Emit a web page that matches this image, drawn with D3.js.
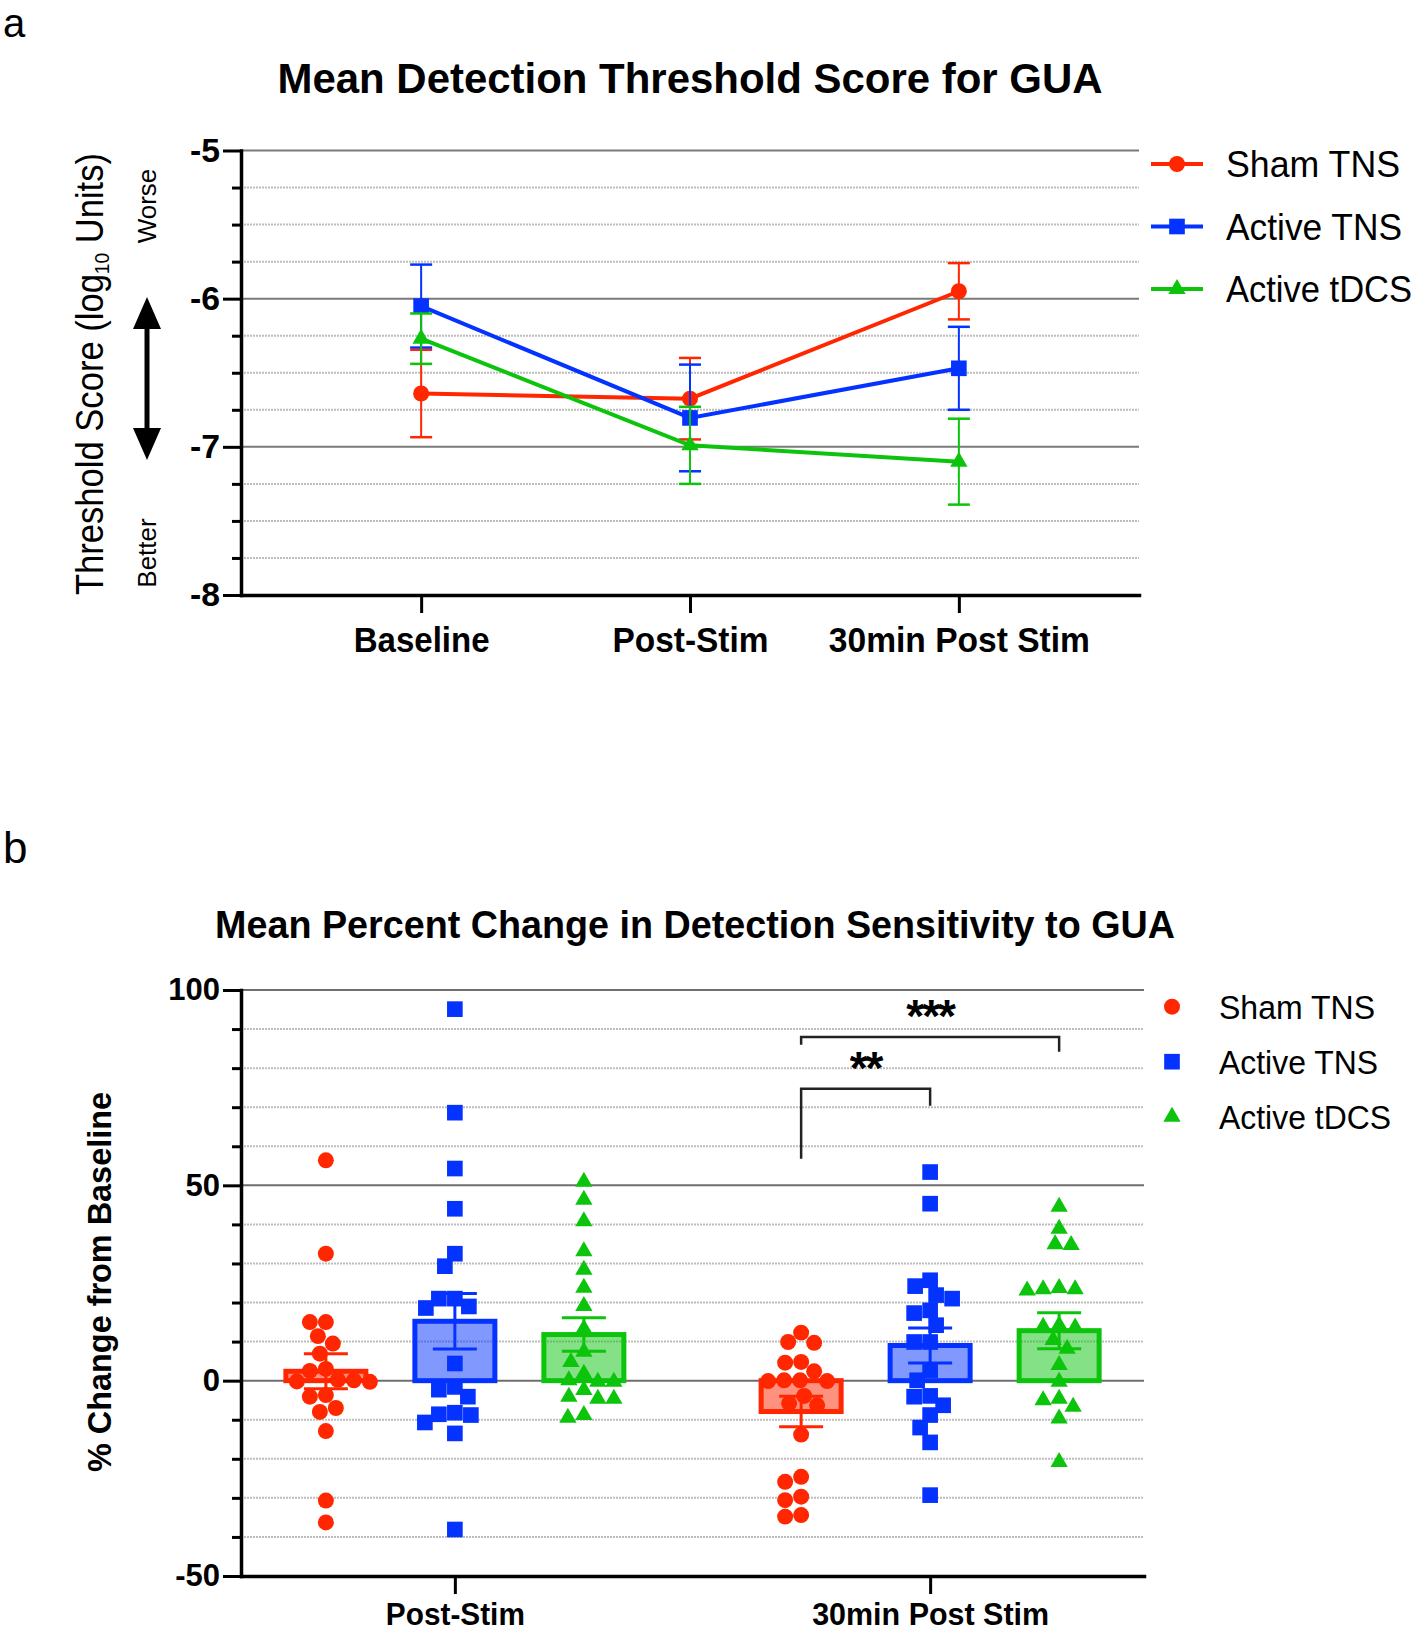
<!DOCTYPE html>
<html><head><meta charset="utf-8">
<script src="https://cdn.jsdelivr.net/npm/d3@7"></script>
<style>
body{margin:0;background:#fff;}
svg{display:block;font-family:"Liberation Sans",Arial,Helvetica,sans-serif;}
</style></head><body>
<svg id="chart" width="1422" height="1631"></svg>
<script>
// ================= Panel a data =================
const timepoints = ["Baseline", "Post-Stim", "30min Post Stim"];
const seriesNames = ["Sham TNS", "Active TNS", "Active tDCS"];
const shamMean = [-6.64, -6.675, -5.95];
const shamSem = [0.295, 0.275, 0.19];
const activeTnsMean = [-6.05, -6.805, -6.47];
const activeTnsSem = [0.28, 0.36, 0.28];
const tdcsMean = [-6.27, -6.99, -7.10];
const tdcsSem = [0.17, 0.26, 0.29];
const aYTicks = [-5, -6, -7, -8];

// ================= Panel b data =================
const bCategories = ["Post-Stim", "30min Post Stim"];
const bYTicks = [100, 50, 0, -50];
const shamPost = [56.4, 32.5, 15, 15, 11.4, 9.5, 6.9, 2.5, 3.0, 0.2, 0.1, -0.3, -0.2, -4.1, -3.7, -8.0, -7.0, -12.9, -30.7, -36.3];
const activeTnsPost = [95.1, 68.6, 54.3, 44.0, 32.5, 29.3, 21.0, 21.0, 18.6, 19.0, 4.4, -2.3, -1.6, -4.1, -8.2, -8.8, -10.7, -8.6, -13.5, -38.1];
const tdcsPost = [50.9, 46.3, 40.8, 33.1, 28.4, 23.8, 19.1, 13.3, 7.4, 4.8, 1.8, -0.3, 0.1, -0.3, -4.6, -2.4, -4.6, -4.1, -9.5, -8.8];
const sham30 = [12.3, 9.7, 9.9, 4.8, 4.6, 2.4, 0.1, -0.1, 0.1, -0.1, -3.9, -6.3, -5.8, -13.8, -24.6, -25.9, -29.7, -30.6, -34.8, -34.4];
const activeTns30 = [53.4, 45.3, 24.2, 25.7, 21.0, 18.0, 21.9, 17.3, 14.2, 9.9, 9.9, 2.7, 0.1, -4.1, -3.9, -6.3, -8.8, -12.0, -15.8, -29.3];
const tdcs30 = [44.5, 38.9, 34.7, 34.9, 23.4, 23.7, 23.1, 23.4, 13.8, 14.2, 13.6, 10.4, 8.2, 4.0, -0.3, -5.0, -4.6, -6.7, -9.7, -20.8];
const barMeansPost = [2.4, 15.2, 11.8];
const barSemsPost = [4.5, 7.1, 4.3];
const barMeans30 = [-7.9, 9.0, 12.8];
const barSems30 = [3.9, 4.5, 4.6];
// significance brackets (30min Post Stim), levels in % units
const bracketFrom = ["Sham TNS", "Sham TNS"];
const bracketTo = ["Active TNS", "Active tDCS"];
const bracketLevel = [74.7, 88];
const bracketLeftEnd = [56.8, 86];
const bracketRightEnd = [70.4, 84.2];
const bracketLabel = ["**", "***"];

// ================= styling =================
const colors = ["#ff2600", "#0433ff", "#0bc40b"];
const symbols = [d3.symbolCircle, d3.symbolSquare, d3.symbolTriangle];
const symSize = [200, 245, 130];
const svg = d3.select("#chart");
function fit(sel, w) { sel.attr("textLength", w).attr("lengthAdjust", "spacingAndGlyphs"); return sel; }

// ================= Panel a =================
const meansA = [shamMean, activeTnsMean, tdcsMean];
const semsA = [shamSem, activeTnsSem, tdcsSem];
const ya = d3.scaleLinear().domain([-8, -5]).range([595, 150.5]);
const xa = d3.scalePoint().domain(timepoints).range([241, 1139]).padding(0.67);
const gA = svg.append("g");

svg.append("text").attr("x", 3).attr("y", 37).attr("font-size", 40).text("a");
fit(svg.append("text").attr("x", 690).attr("y", 93).attr("text-anchor", "middle")
  .attr("font-size", 43).attr("font-weight", "bold").text("Mean Detection Threshold Score for GUA"), 825);

const gridA = d3.range(-8, -4.99, 0.25).filter(v => v > -8);
gA.selectAll("line.grid").data(gridA).join("line")
  .attr("x1", 241).attr("x2", 1139).attr("y1", d => ya(d)).attr("y2", d => ya(d))
  .attr("stroke", d => Number.isInteger(d) ? "#7a7a7a" : "#bdbdbd")
  .attr("stroke-width", 2)
  .attr("stroke-dasharray", d => Number.isInteger(d) ? null : "2,1");

const yAxisA = gA.append("g").attr("transform", "translate(241,0)")
  .call(d3.axisLeft(ya).tickValues(aYTicks).tickSize(18).tickSizeOuter(0).tickPadding(3).tickFormat(d => String(d)));
gA.append("g").attr("transform", "translate(241,0)")
  .call(d3.axisLeft(ya).tickValues(gridA.filter(v => !Number.isInteger(v))).tickSize(9).tickFormat(""))
  .call(g => g.select(".domain").remove());
const xAxisA = gA.append("g").attr("transform", "translate(0,595)")
  .call(d3.axisBottom(xa).tickSize(18).tickSizeOuter(0).tickPadding(14));

gA.selectAll(".tick line").attr("stroke", "#000").attr("stroke-width", 3);
gA.selectAll(".domain").attr("stroke", "#000").attr("stroke-width", 3.5).attr("stroke-linecap", "square");
yAxisA.selectAll("text").attr("font-size", 33).attr("font-weight", "bold").attr("fill", "#000")
  .each(function () { fit(d3.select(this), 30); });
xAxisA.selectAll("text").attr("font-size", 35).attr("font-weight", "bold").attr("fill", "#000")
  .each(function (d) { fit(d3.select(this), {"Baseline": 136, "Post-Stim": 156, "30min Post Stim": 261}[d]); });

// y title with subscript
const ytA = svg.append("text").attr("transform", "translate(103,374) rotate(-90)")
  .attr("text-anchor", "middle").attr("font-size", 38);
ytA.append("tspan").text("Threshold Score (log");
ytA.append("tspan").attr("font-size", 21).attr("dy", 6).text("10");
ytA.append("tspan").attr("dy", -6).text(" Units)");
fit(ytA, 442);

svg.append("text").attr("transform", "translate(156,206) rotate(-90)").attr("text-anchor", "middle")
  .attr("font-size", 26).text("Worse");
svg.append("text").attr("transform", "translate(156,553) rotate(-90)").attr("text-anchor", "middle")
  .attr("font-size", 26).text("Better");
// double arrow
svg.append("line").attr("x1", 147).attr("x2", 147).attr("y1", 320).attr("y2", 437)
  .attr("stroke", "#000").attr("stroke-width", 5);
svg.append("path").attr("d", "M147,297 L133,329 L161,329 Z M147,460 L133,428 L161,428 Z").attr("fill", "#000");

// series
seriesNames.forEach((s, si) => {
  const g = gA.append("g");
  const m = meansA[si], e = semsA[si];
  timepoints.forEach((t, ti) => {
    const x = xa(t);
    g.append("line").attr("x1", x).attr("x2", x).attr("y1", ya(m[ti] - e[ti])).attr("y2", ya(m[ti] + e[ti]))
      .attr("stroke", colors[si]).attr("stroke-width", 2);
    [m[ti] - e[ti], m[ti] + e[ti]].forEach(v => g.append("line").attr("x1", x - 11).attr("x2", x + 11)
      .attr("y1", ya(v)).attr("y2", ya(v)).attr("stroke", colors[si]).attr("stroke-width", 2.5));
  });
  g.append("path").datum(m).attr("fill", "none").attr("stroke", colors[si]).attr("stroke-width", 4)
    .attr("d", d3.line().x((d, i) => xa(timepoints[i])).y(d => ya(d)));
  g.selectAll("path.pt").data(m).join("path").attr("class", "pt")
    .attr("transform", (d, i) => `translate(${xa(timepoints[i])},${ya(d)})`)
    .attr("d", d3.symbol(symbols[si], symSize[si])).attr("fill", colors[si]);
});

// legend a
seriesNames.forEach((s, si) => {
  const y = 164 + si * 62.5;
  svg.append("line").attr("x1", 1151).attr("x2", 1203).attr("y1", y).attr("y2", y)
    .attr("stroke", colors[si]).attr("stroke-width", 4);
  svg.append("path").attr("transform", `translate(1177,${y})`).attr("d", d3.symbol(symbols[si], symSize[si])())
    .attr("fill", colors[si]);
  fit(svg.append("text").attr("x", 1226).attr("y", y + 13).attr("font-size", 36).text(s), [174, 176, 186][si]);
});

// ================= Panel b =================
const pointsB = { "Post-Stim": [shamPost, activeTnsPost, tdcsPost], "30min Post Stim": [sham30, activeTns30, tdcs30] };
const meansB = { "Post-Stim": barMeansPost, "30min Post Stim": barMeans30 };
const semsB = { "Post-Stim": barSemsPost, "30min Post Stim": barSems30 };
const yb = d3.scaleLinear().domain([-50, 100]).range([1576, 990]);
const xb = d3.scalePoint().domain(bCategories).range([241, 1144]).padding(0.45);
const xOff = d3.scalePoint().domain(seriesNames).range([-129, 129]);
const gB = svg.append("g");

svg.append("text").attr("x", 3).attr("y", 863).attr("font-size", 44).text("b");
fit(svg.append("text").attr("x", 695).attr("y", 938).attr("text-anchor", "middle")
  .attr("font-size", 39).attr("font-weight", "bold").text("Mean Percent Change in Detection Sensitivity to GUA"), 960);

const gridB = d3.range(-40, 101, 10);
gB.selectAll("line.grid").data(gridB).join("line")
  .attr("x1", 241).attr("x2", 1144).attr("y1", d => yb(d)).attr("y2", d => yb(d))
  .attr("stroke", d => d % 50 === 0 ? "#6e6e6e" : "#bdbdbd")
  .attr("stroke-width", 2)
  .attr("stroke-dasharray", d => d % 50 === 0 ? null : "2,1");

const yAxisB = gB.append("g").attr("transform", "translate(241,0)")
  .call(d3.axisLeft(yb).tickValues(bYTicks).tickSize(18).tickSizeOuter(0).tickPadding(3).tickFormat(d => String(d)));
gB.append("g").attr("transform", "translate(241,0)")
  .call(d3.axisLeft(yb).tickValues(gridB.filter(v => v % 50 !== 0)).tickSize(9).tickFormat(""))
  .call(g => g.select(".domain").remove());
const xAxisB = gB.append("g").attr("transform", "translate(0,1576)")
  .call(d3.axisBottom(xb).tickSize(18).tickSizeOuter(0).tickPadding(8));
gB.selectAll(".tick line").attr("stroke", "#000").attr("stroke-width", 3);
gB.selectAll(".domain").attr("stroke", "#000").attr("stroke-width", 3.5).attr("stroke-linecap", "square");
yAxisB.selectAll("text").attr("font-size", 31).attr("font-weight", "bold").attr("fill", "#000");
xAxisB.selectAll("text").attr("font-size", 32).attr("font-weight", "bold").attr("fill", "#000")
  .each(function (d) { fit(d3.select(this), {"Post-Stim": 139, "30min Post Stim": 237}[d]); });

fit(svg.append("text").attr("transform", "translate(111,1282) rotate(-90)").attr("text-anchor", "middle")
  .attr("font-size", 33).attr("font-weight", "bold").text("% Change from Baseline"), 380);

function swarm(values, cx, diam) {
  const order = values.map((v, i) => i).sort((a, b) => values[b] - values[a]);
  const placed = [];
  const out = new Array(values.length);
  for (const i of order) {
    const y = yb(values[i]);
    let off = 0;
    for (let k = 0; k < 400; k++) {
      const cand = (k % 2 === 0 ? 1 : -1) * Math.ceil(k / 2);
      if (placed.every(p => (p.x - cand) ** 2 + (p.y - y) ** 2 >= diam * diam)) { off = cand; break; }
    }
    placed.push({ x: off, y });
    out[i] = { x: cx + off, y };
  }
  return out;
}

bCategories.forEach(c => {
  seriesNames.forEach((s, si) => {
    const cx = xb(c) + xOff(s);
    const mean = meansB[c][si], sem = semsB[c][si];
    const g = gB.append("g");
    g.append("rect").attr("x", cx - 40).attr("width", 80)
      .attr("y", Math.min(yb(mean), yb(0))).attr("height", Math.abs(yb(mean) - yb(0)))
      .attr("fill", colors[si]).attr("fill-opacity", 0.5)
      .attr("stroke", colors[si]).attr("stroke-width", 5);
    g.selectAll("path.pt").data(swarm(pointsB[c][si], cx, 16)).join("path")
      .attr("transform", d => `translate(${d.x},${d.y})`)
      .attr("d", d3.symbol(symbols[si], symSize[si])).attr("fill", colors[si]);
    g.append("line").attr("x1", cx).attr("x2", cx).attr("y1", yb(mean - sem)).attr("y2", yb(mean + sem))
      .attr("stroke", colors[si]).attr("stroke-width", 3);
    [mean - sem, mean + sem].forEach(v => g.append("line").attr("x1", cx - 22).attr("x2", cx + 22)
      .attr("y1", yb(v)).attr("y2", yb(v)).attr("stroke", colors[si]).attr("stroke-width", 3));
  });
});

// brackets
bracketLabel.forEach((lab, i) => {
  const c = "30min Post Stim";
  const x1 = xb(c) + xOff(bracketFrom[i]), x2 = xb(c) + xOff(bracketTo[i]);
  gB.append("path").attr("fill", "none").attr("stroke", "#222").attr("stroke-width", 2.5)
    .attr("d", `M${x1},${yb(bracketLeftEnd[i])} V${yb(bracketLevel[i])} H${x2} V${yb(bracketRightEnd[i])}`);
  gB.append("text").attr("x", (x1 + x2) / 2).attr("y", yb(bracketLevel[i]) - 5).attr("text-anchor", "middle")
    .attr("font-size", 46).attr("font-weight", "bold").attr("letter-spacing", -2).text(lab);
});

// legend b
seriesNames.forEach((s, si) => {
  const y = 1006.7 + si * 55;
  svg.append("path").attr("transform", `translate(1172,${y})`).attr("d", d3.symbol(symbols[si], symSize[si])())
    .attr("fill", colors[si]);
  fit(svg.append("text").attr("x", 1219).attr("y", y + 12).attr("font-size", 34).text(s), [156, 159, 172][si]);
});
</script>
</body></html>
